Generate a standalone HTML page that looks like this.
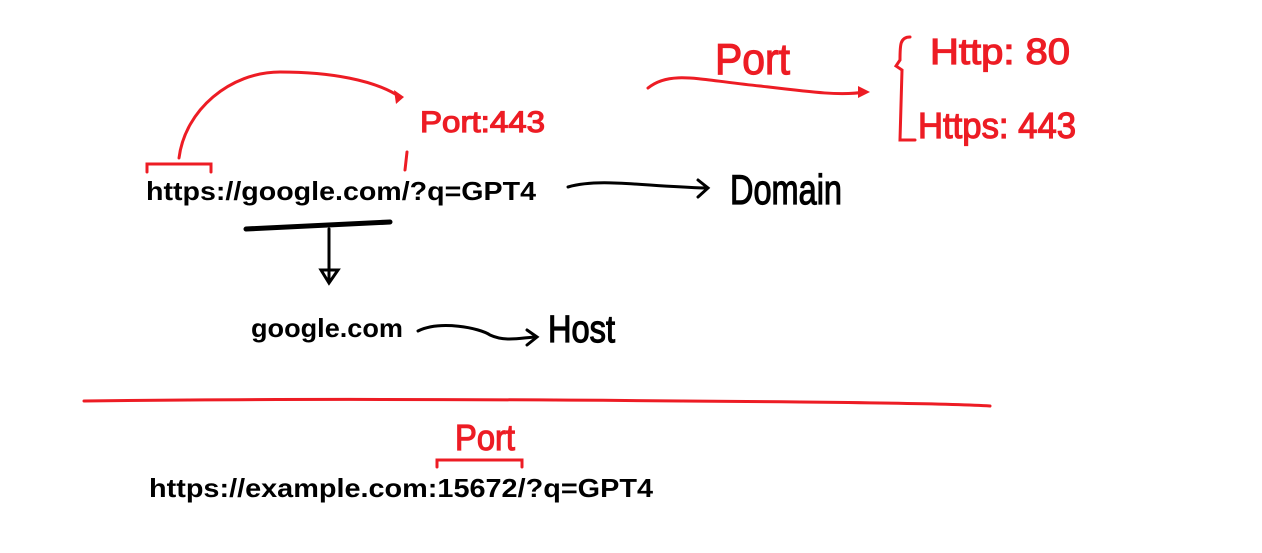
<!DOCTYPE html>
<html><head><meta charset="utf-8"><style>
html,body{margin:0;padding:0;background:#fff;width:1262px;height:553px;overflow:hidden}
svg{display:block}
.b{font-family:"Liberation Sans",Arial,sans-serif;font-weight:bold;font-size:26px;fill:#000}
</style></head><body>
<svg width="1262" height="553" viewBox="0 0 1262 553" xmlns="http://www.w3.org/2000/svg">
<g fill="none" stroke="#ed1c24" stroke-width="3" stroke-linecap="round">
<path d="M179,158 C185,110 230,72 280,72 C330,72 375,80 400,97"/>
<path d="M147,172 L147,164 L211,164 L211,172"/>
<path d="M405,170 L407,152"/>
<path d="M648,88 C670,70 700,80 760,86 C810,92 840,96 865,92"/>
<path d="M910,37 C900,37 900,45 900,60 L896,66 L902,70 L900,140 L915,140"/>
<path d="M84,401 C300,398 600,400 800,402 C900,403 960,404 990,406"/>
<path d="M437,467 L437,460 L522,460 L522,467"/>
</g>
<g fill="#ed1c24"><path d="M394,90 L404,97 L396,104 Z"/><path d="M858,86 L870,92 L858,98 Z"/></g>
<g font-family="Liberation Sans,sans-serif" fill="#ed1c24" stroke="#ed1c24" stroke-width="1.2">
<text x="420" y="132" font-size="30" textLength="125" lengthAdjust="spacingAndGlyphs">Port:443</text>
<text x="715" y="74" font-size="44" textLength="75" lengthAdjust="spacingAndGlyphs">Port</text>
<text x="930" y="64" font-size="36" textLength="140" lengthAdjust="spacingAndGlyphs">Http: 80</text>
<text x="918" y="138" font-size="36" textLength="158" lengthAdjust="spacingAndGlyphs">Https: 443</text>
<text x="455" y="450" font-size="36" textLength="60" lengthAdjust="spacingAndGlyphs">Port</text>
</g>
<text class="b" x="146" y="200" textLength="390" lengthAdjust="spacingAndGlyphs">https://google.com/?q=GPT4</text>
<text class="b" x="251" y="337" textLength="152" lengthAdjust="spacingAndGlyphs">google.com</text>
<text class="b" x="149" y="497" textLength="504" lengthAdjust="spacingAndGlyphs">https://example.com:15672/?q=GPT4</text>
<g fill="none" stroke="#000" stroke-width="3" stroke-linecap="round">
<path d="M568,187 C600,178 640,186 705,188"/>
<path d="M698,180 L708,188 L698,197"/>
<path d="M246,229 L390,222" stroke-width="5"/>
<path d="M329,229 L329,280"/>
<path d="M321,270 L329,283 L338,270 Z"/>
<path d="M418,331 C440,320 480,328 490,335 C505,342 520,338 535,337"/>
<path d="M527,330 L537,337 L527,345"/>
</g>
<g font-family="Liberation Sans,sans-serif" fill="#000" stroke="#000" stroke-width="1.2">
<text x="730" y="204" font-size="42" textLength="112" lengthAdjust="spacingAndGlyphs">Domain</text>
<text x="548" y="342" font-size="38" textLength="67" lengthAdjust="spacingAndGlyphs">Host</text>
</g>
</svg>
</body></html>
